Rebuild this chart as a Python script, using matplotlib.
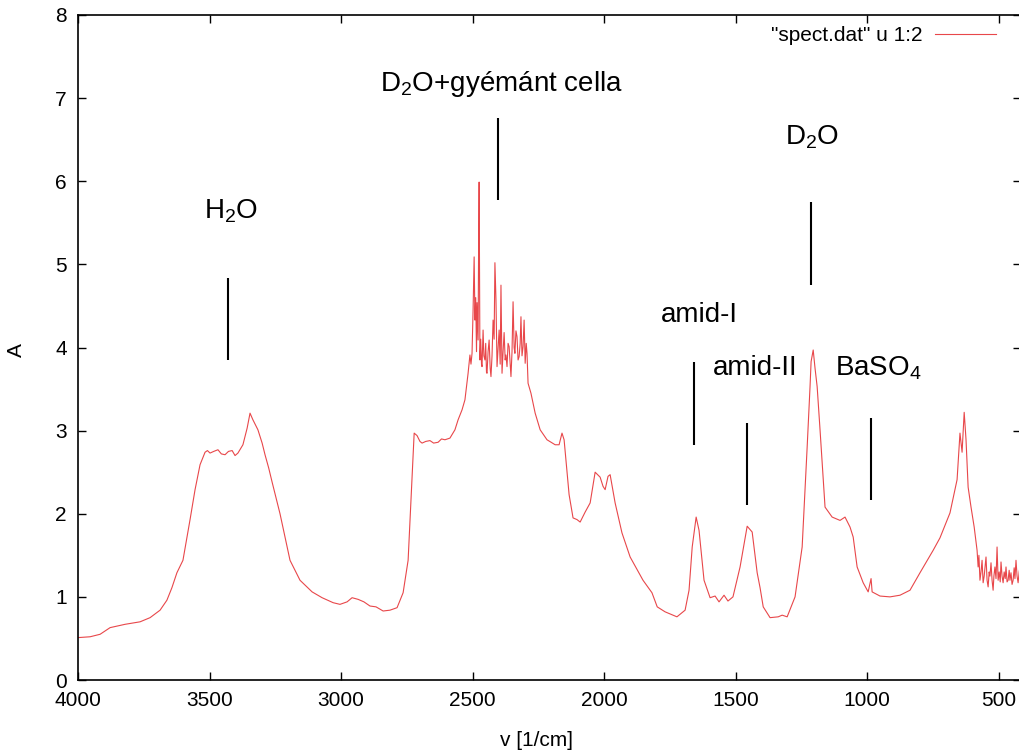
import matplotlib
matplotlib.use('Agg')
import matplotlib.pyplot as plt
import numpy as np

# wavenumber [1/cm] and absorbance, in pieces
# 4000 - 2520: H2O band and the flat D2O shoulder
wn_a = [4000, 3954, 3916, 3878, 3821, 3764, 3726, 3688, 3662, 3643, 3624, 3601,
	3574, 3555, 3536, 3517, 3508, 3498, 3484, 3468, 3455, 3441, 3428, 3414, 3403,
	3392, 3373, 3357, 3346, 3335, 3316, 3300, 3289, 3275, 3262, 3232, 3194, 3156,
	3110, 3072, 3030, 3004, 2977, 2958, 2935, 2913, 2890, 2867, 2840, 2814, 2787,
	2764, 2745, 2734, 2722, 2711, 2700, 2692, 2678, 2662, 2648, 2631, 2618, 2605,
	2586, 2567, 2555, 2540, 2529, 2517]
ab_a = [0.51, 0.52, 0.55, 0.63, 0.67, 0.70, 0.75, 0.84, 0.96, 1.11, 1.29, 1.44,
	1.93, 2.29, 2.59, 2.74, 2.76, 2.73, 2.75, 2.77, 2.72, 2.71, 2.75, 2.76, 2.70,
	2.73, 2.83, 3.03, 3.21, 3.13, 3.01, 2.85, 2.71, 2.55, 2.38, 2.00, 1.44, 1.20,
	1.06, 0.99, 0.93, 0.91, 0.94, 0.99, 0.97, 0.94, 0.89, 0.88, 0.83, 0.84, 0.87,
	1.05, 1.44, 2.17, 2.97, 2.94, 2.87, 2.85, 2.87, 2.88, 2.85, 2.86, 2.90, 2.89,
	2.91, 3.01, 3.13, 3.25, 3.37, 3.69]
# 2510 - 2289: noisy top of the D2O + diamond cell band
wn_b = [2510, 2506, 2502, 2498, 2494, 2491, 2488, 2485, 2483, 2479, 2477, 2475,
	2472, 2469, 2466, 2464, 2460, 2457, 2453, 2450, 2447, 2445, 2441, 2437, 2433,
	2430, 2426, 2422, 2418, 2415, 2411, 2407, 2403, 2399, 2395, 2392, 2388, 2384,
	2380, 2376, 2373, 2369, 2365, 2361, 2357, 2354, 2350, 2346, 2342, 2339, 2335,
	2331, 2327, 2323, 2319, 2316, 2312, 2308, 2304, 2300, 2296, 2293, 2289]
ab_b = [3.91, 3.80, 3.93, 4.45, 5.09, 4.33, 4.60, 3.95, 4.54, 4.09, 5.20, 5.99,
	3.85, 4.10, 3.80, 3.77, 4.21, 3.90, 3.85, 4.05, 3.70, 3.69, 3.95, 4.09, 3.75,
	3.65, 3.90, 4.33, 4.10, 5.02, 4.57, 3.77, 4.00, 4.21, 3.80, 4.75, 3.69, 3.95,
	4.18, 3.85, 3.91, 3.77, 4.05, 4.01, 3.80, 3.65, 3.95, 4.55, 4.00, 3.93, 4.20,
	4.13, 3.85, 3.89, 4.05, 4.37, 3.90, 4.01, 4.33, 3.81, 4.05, 3.93, 3.57]
# 2278 - 590: amide bands, D2O and the low wavenumber rise
wn_c = [2278, 2262, 2243, 2217, 2186, 2171, 2160, 2152, 2145, 2133, 2118, 2103,
	2091, 2072, 2053, 2034, 2015, 2004, 1996, 1985, 1977, 1958, 1932, 1901, 1852,
	1818, 1798, 1768, 1723, 1692, 1677, 1665, 1650, 1639, 1620, 1597, 1578, 1563,
	1544, 1529, 1510, 1483, 1456, 1437, 1418, 1407, 1395, 1369, 1338, 1323, 1304,
	1274, 1247, 1228, 1217, 1213, 1205, 1198, 1190, 1179, 1160, 1133, 1103, 1084,
	1065, 1053, 1038, 1015, 996, 985, 981, 951, 913, 875, 837, 799, 749, 723, 685,
	658, 647, 639, 631, 624, 616, 605, 593]
ab_c = [3.45, 3.21, 3.01, 2.89, 2.83, 2.83, 2.97, 2.89, 2.65, 2.23, 1.95, 1.93,
	1.90, 2.02, 2.13, 2.50, 2.44, 2.33, 2.29, 2.45, 2.47, 2.13, 1.77, 1.48, 1.20,
	1.05, 0.88, 0.82, 0.76, 0.84, 1.08, 1.60, 1.96, 1.80, 1.20, 0.99, 1.01, 0.94,
	1.02, 0.95, 1.00, 1.36, 1.85, 1.78, 1.29, 1.11, 0.88, 0.75, 0.76, 0.78, 0.76,
	1.00, 1.60, 2.80, 3.53, 3.83, 3.97, 3.75, 3.53, 3.01, 2.08, 1.96, 1.92, 1.96,
	1.84, 1.72, 1.36, 1.17, 1.06, 1.22, 1.06, 1.01, 1.00, 1.02, 1.08, 1.29, 1.56,
	1.71, 2.01, 2.41, 2.97, 2.74, 3.22, 2.89, 2.32, 2.08, 1.84]
# 582 - 419: noisy tail
wn_d = [582, 578, 575, 571, 567, 563, 559, 555, 552, 548, 544, 540, 536, 533,
	529, 525, 521, 518, 514, 510, 506, 502, 498, 494, 491, 487, 483, 479, 475,
	472, 468, 464, 460, 457, 453, 449, 445, 441, 438, 434, 430, 426, 422, 419]
ab_d = [1.56, 1.36, 1.50, 1.20, 1.30, 1.44, 1.17, 1.25, 1.35, 1.48, 1.20, 1.12,
	1.30, 1.25, 1.41, 1.20, 1.08, 1.25, 1.36, 1.22, 1.60, 1.20, 1.30, 1.18, 1.42,
	1.25, 1.17, 1.30, 1.22, 1.36, 1.18, 1.20, 1.32, 1.20, 1.29, 1.15, 1.20, 1.35,
	1.22, 1.44, 1.25, 1.17, 1.30, 1.36]

wavenumber = wn_a + wn_b + wn_c + wn_d
absorbance = ab_a + ab_b + ab_c + ab_d

# band labels: text, text position, marker line position (x, y_low, y_high)
labels = ['H$_2$O', 'D$_2$O+gyémánt cella', 'D$_2$O', 'amid-I', 'amid-II', 'BaSO$_4$']
label_x = [3418, 2392, 1209, 1637, 1426, 958]
label_y = [5.56, 7.08, 6.44, 4.31, 3.67, 3.67]
marker_x = [3430, 2403, 1213, 1658, 1456, 985]
marker_lo = [3.85, 5.78, 4.75, 2.83, 2.11, 2.17]
marker_hi = [4.84, 6.76, 5.75, 3.83, 3.09, 3.15]

plt.rcParams['font.family'] = ['Liberation Sans', 'DejaVu Sans']
plt.rcParams['mathtext.fontset'] = 'custom'
plt.rcParams['mathtext.rm'] = 'Liberation Sans'

fig = plt.figure(figsize=(10.2, 7.56), dpi=100)
ax = fig.add_axes([78 / 1020, 1 - 680 / 756, (1021 - 78) / 1020, 665 / 756])

ax.plot(wavenumber, absorbance, color='#e8474a', lw=0.8, label='"spect.dat" u 1:2')
ax.vlines(marker_x, marker_lo, marker_hi, color='black', lw=1.5)
for t, x, y in zip(labels, label_x, label_y):
	ax.text(x, y, t, ha='center', va='baseline', fontsize=20)

ax.set_xlim(4000, 415)
ax.set_ylim(0, 8)
ax.set_xticks([4000, 3500, 3000, 2500, 2000, 1500, 1000, 500])
ax.set_yticks(range(0, 9))
ax.tick_params(direction='in', length=6, width=1, labelsize=15, top=True, right=True, pad=8)
for s in ax.spines.values():
	s.set_linewidth(1.2)

fig.text(537 / 1020, 1 - 740 / 756, 'v [1/cm]', ha='center', va='center', fontsize=15)
fig.text(16 / 1020, 1 - 350 / 756, 'A', ha='center', va='center', fontsize=15, rotation=90)

ax.legend(loc='upper right', bbox_to_anchor=(1004 / 1020, 1 - 18 / 756), bbox_transform=fig.transFigure,
	frameon=False, markerfirst=False, fontsize=15, handlelength=2.9, handletextpad=0.6, borderaxespad=0)

fig.savefig('out.png', dpi=100)
